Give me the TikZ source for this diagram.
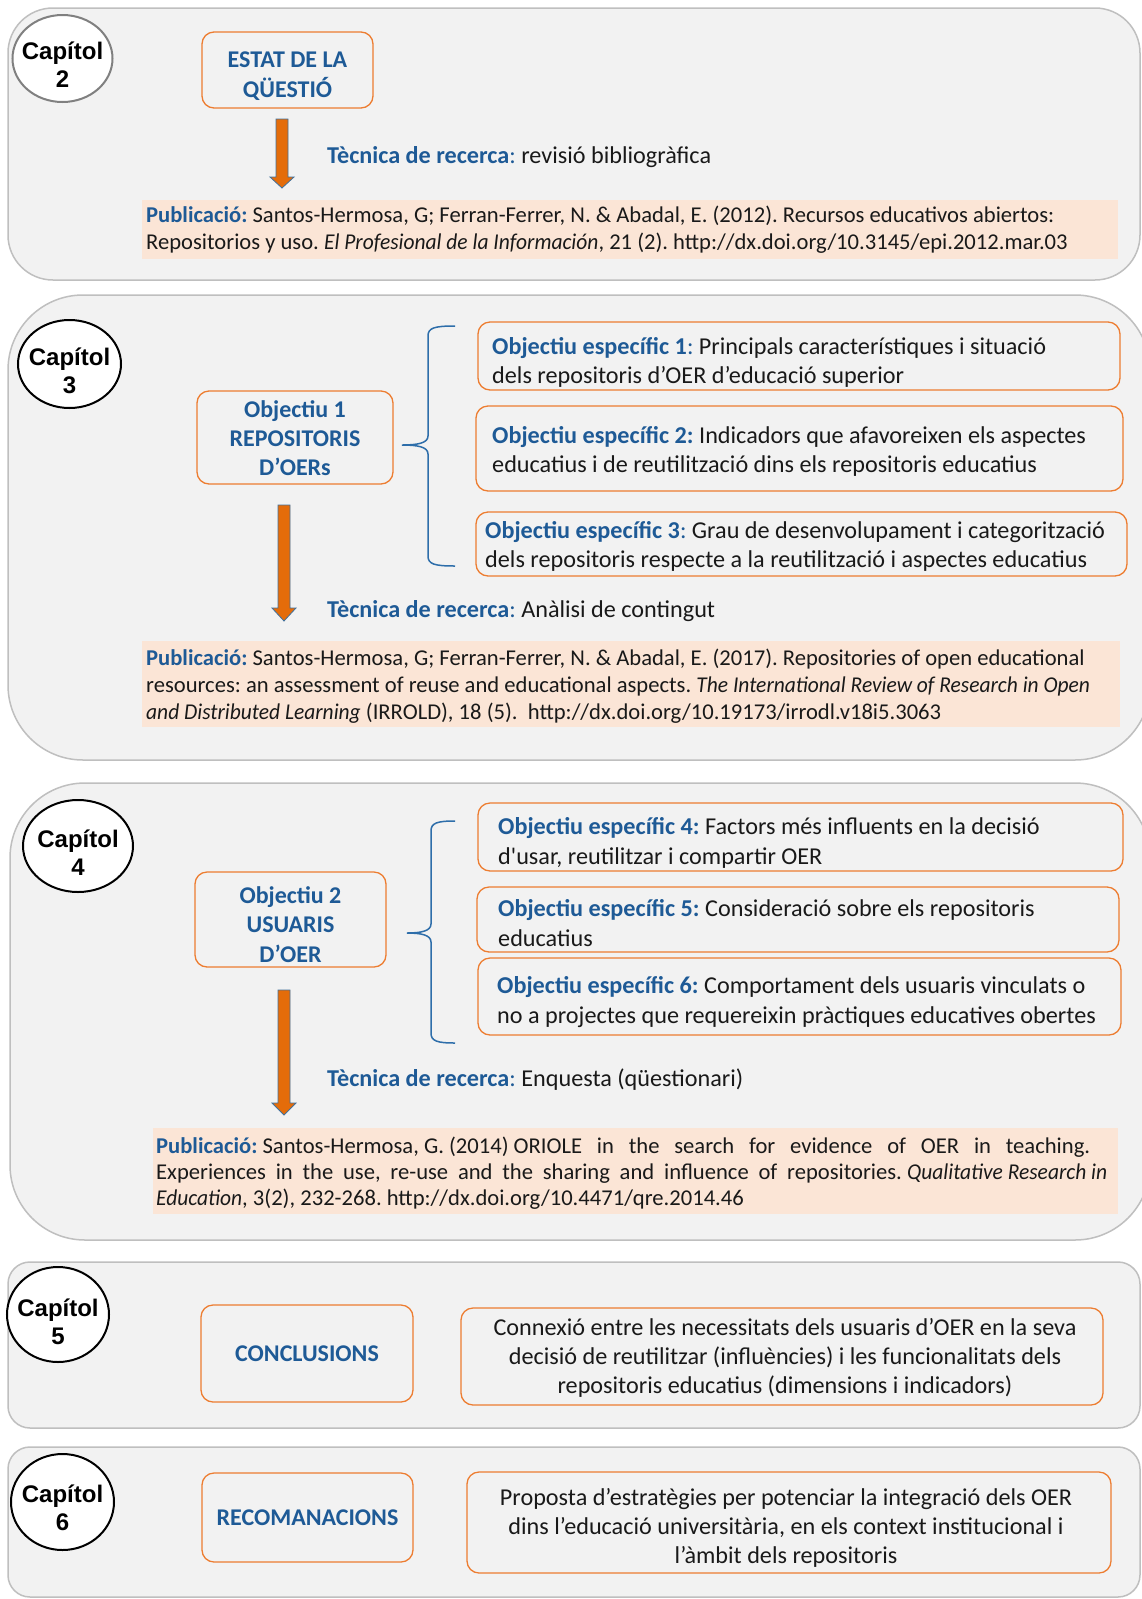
\documentclass[tikz,border=0pt]{standalone}
\usepackage{fontspec}
\setmainfont{Carlito}[Ligatures=TeXOff, ItalicFeatures={FakeStretch=0.95}]
\newfontfamily\capfont{Liberation Sans}
\usetikzlibrary{shapes.geometric}
\definecolor{tblue}{RGB}{30,90,150}
\definecolor{bord}{RGB}{237,125,49}
\definecolor{arrfill}{RGB}{228,108,10}
\definecolor{arrline}{RGB}{65,113,156}
\definecolor{peach}{RGB}{251,229,214}
\definecolor{panelfill}{RGB}{242,242,242}
\definecolor{panelline}{RGB}{191,191,191}
\definecolor{bracec}{RGB}{46,110,170}
\definecolor{txt}{RGB}{25,25,25}
\newcommand{\kw}[1]{{\color{tblue}\bfseries #1}}
\newcommand{\kc}{{\color{tblue}:}}
\newcommand{\blockarr}[4]{\filldraw[arr] (#1-6,#2) -- (#1+6,#2) -- (#1+6,#3) -- (#1+12,#3) -- (#1,#4) -- (#1-12,#3) -- (#1-6,#3) -- cycle;}
\newcommand{\mybrace}[6]{\draw[brc] (#4,#5) .. controls (#3+6,#5) and (#3,#5+2) .. (#3,#5+10) -- (#3,#2-9) .. controls (#3,#2-2) and (#3-10,#2) .. (#1,#2) .. controls (#3-10,#2) and (#3,#2+2) .. (#3,#2+9) -- (#3,#6-10) .. controls (#3,#6-2) and (#3+6,#6) .. (#4,#6);}
\frenchspacing
\begin{document}
\begin{tikzpicture}[x=1pt,y=-1pt,
  panel/.style={draw=panelline, fill=panelfill, line width=1.5pt},
  obox/.style={draw=bord, line width=1.3pt, rounded corners=12pt, inner sep=0, fill=panelfill},
  chap/.style={ellipse, draw=black, line width=2pt, fill=white, inner sep=0},
  captx/.style={anchor=base, inner sep=0, font=\capfont\bfseries\fontsize{24}{29}\selectfont},
  bt/.style={anchor=base west, inner sep=0, text=txt, font=\frenchspacing\fontsize{24.2}{29}\selectfont},
  btc/.style={anchor=base, inner sep=0, text=txt, font=\frenchspacing\fontsize{24.2}{29}\selectfont},
  bb/.style={anchor=base, inner sep=0, text=tblue, font=\bfseries\fontsize{24}{29}\selectfont},
  pt/.style={anchor=base west, inner sep=0, text=txt, font=\frenchspacing\fontsize{22.6}{27}\selectfont},
  arr/.style={fill=arrfill, draw=arrline, line width=0.8pt},
  brc/.style={draw=bracec, line width=1.5pt}
]
\useasboundingbox (0,0) rectangle (1141,1599);
\fill[white] (0,0) rectangle (1141,1599);

% ---------- panels
\draw[panel, rounded corners=45pt] (8,8) rectangle (1140,280);
\draw[panel, rounded corners=75pt] (8,295) rectangle (1150,760);
\draw[panel, rounded corners=75pt] (10,783) rectangle (1150,1240);
\draw[panel, rounded corners=22pt] (8,1262) rectangle (1140,1428);
\draw[panel, rounded corners=22pt] (8,1447) rectangle (1140,1597);

% ---------- chapter circles
\node[chap, draw=gray, minimum width=100pt, minimum height=87pt] (c2) at (62.5,58.5) {};
\node[captx] (c2a) at (62.5,59.5) {Capítol};
\node[captx] (c2b) at (62.5,87.5) {2};
\node[chap, minimum width=103pt, minimum height=88pt] (c3) at (69.5,364) {};
\node[captx] (c3a) at (69.5,365) {Capítol};
\node[captx] (c3b) at (69.5,393) {3};
\node[chap, minimum width=110pt, minimum height=92pt] (c4) at (78,846) {};
\node[captx] (c4a) at (78,847) {Capítol};
\node[captx] (c4b) at (78,875) {4};
\node[chap, minimum width=102pt, minimum height=95pt] (c5) at (58,1314.5) {};
\node[captx] (c5a) at (58,1316) {Capítol};
\node[captx] (c5b) at (58,1344) {5};
\node[chap, minimum width=103pt, minimum height=96pt] (c6) at (62.5,1502) {};
\node[captx] (c6a) at (62.5,1502.5) {Capítol};
\node[captx] (c6b) at (62.5,1530.5) {6};

% ---------- panel 1
\node[obox, minimum width=171pt, minimum height=76pt] (estat) at (287.5,70) {};
\node[bb] (estat1) at (287.5,67) {ESTAT DE LA};
\node[bb] (estat2) at (287.5,97) {QÜESTIÓ};
\blockarr{282}{119}{177}{188}
\node[bt] (tec1) at (327,163) {\kw{Tècnica de recerca}\kc{} revisió bibliogràfica};
\fill[peach] (142,200) rectangle (1118,259);
\node[pt] (pub1a) at (146,222.5) {\kw{Publicació:} Santos-Hermosa, G; Ferran-Ferrer, N. \& Abadal, E. (2012). Recursos educativos abiertos:};
\node[pt] (pub1b) at (146,249) {Repositorios y uso. \textit{El Profesional de la Información}, 21 (2). http://dx.doi.org/10.3145/epi.2012.mar.03};

% ---------- panel 2
\node[obox, minimum width=196pt, minimum height=93pt] (obj1) at (295,437.5) {};
\node[bb] (obj1a) at (295,417) {Objectiu 1};
\node[bb] (obj1b) at (295,446) {REPOSITORIS};
\node[bb] (obj1c) at (295,475) {D’OERs};
\mybrace{402}{445}{428}{455}{326}{566}
\node[obox, minimum width=642pt, minimum height=68pt] (oe1) at (799,356) {};
\node[bt] (oe1a) at (492,354) {\kw{Objectiu específic 1}\kc{} Principals característiques i situació};
\node[bt] (oe1b) at (492,383) {dels repositoris d’OER d’educació superior};
\node[obox, minimum width=647pt, minimum height=85pt] (oe2) at (799.5,448.5) {};
\node[bt] (oe2a) at (492,443) {\kw{Objectiu específic 2:} Indicadors que afavoreixen els aspectes};
\node[bt] (oe2b) at (492,472) {educatius i de reutilització dins els repositoris educatius};
\node[obox, minimum width=651pt, minimum height=64pt] (oe3) at (801.5,544) {};
\node[bt] (oe3a) at (485,538) {\kw{Objectiu específic 3}\kc{} Grau de desenvolupament i categorització};
\node[bt] (oe3b) at (485,567) {dels repositoris respecte a la reutilització i aspectes educatius};
\blockarr{284}{505}{608}{621}
\node[bt] (tec2) at (327,617) {\kw{Tècnica de recerca}\kc{} Anàlisi de contingut};
\fill[peach] (142,641) rectangle (1120,727);
\node[pt] (pub2a) at (146,665.5) {\kw{Publicació:} Santos-Hermosa, G; Ferran-Ferrer, N. \& Abadal, E. (2017). Repositories of open educational};
\node[pt] (pub2b) at (146,692.5) {resources: an assessment of reuse and educational aspects. \textit{The International Review of Research in Open}};
\node[pt] (pub2c) at (146,719) {\textit{and Distributed Learning} (IRROLD), 18 (5).\ \ http://dx.doi.org/10.19173/irrodl.v18i5.3063};

% ---------- panel 3
\node[obox, minimum width=191pt, minimum height=95pt] (obj2) at (290.5,919.5) {};
\node[bb] (obj2a) at (290.5,903) {Objectiu 2};
\node[bb] (obj2b) at (290.5,932) {USUARIS};
\node[bb] (obj2c) at (290.5,962) {D’OER};
\mybrace{407}{933}{431}{455}{821}{1043}
\node[obox, minimum width=645pt, minimum height=68pt] (oe4) at (800.5,837) {};
\node[bt] (oe4a) at (498,834) {\kw{Objectiu específic 4:} Factors més influents en la decisió};
\node[bt] (oe4b) at (498,864) {d'usar, reutilitzar i compartir OER};
\node[obox, minimum width=642pt, minimum height=65pt] (oe5) at (798,919.5) {};
\node[bt] (oe5a) at (498,916) {\kw{Objectiu específic 5:} Consideració sobre els repositoris};
\node[bt] (oe5b) at (498,946) {educatius};
\node[obox, minimum width=643pt, minimum height=77pt] (oe6) at (799.5,996.5) {};
\node[bt] (oe6a) at (497,993) {\kw{Objectiu específic 6:} Comportament dels usuaris vinculats o};
\node[bt] (oe6b) at (497,1023) {no a projectes que requereixin pràctiques educatives obertes};
\blockarr{284}{990}{1103}{1115}
\node[bt] (tec3) at (327,1086) {\kw{Tècnica de recerca}\kc{} Enquesta (qüestionari)};
\fill[peach] (153,1128) rectangle (1118,1214);
\node[pt] (pub3a) at (156,1153) {\makebox[934pt][s]{\mbox{\kw{Publicació:} Santos-Hermosa, G. (2014) ORIOLE} in the search for evidence of OER in teaching.}};
\node[pt] (pub3b) at (156,1179) {\makebox[951pt][s]{Experiences in the use, re-use and the sharing and influence of \mbox{repositories. \textit{Qualitative Research in}}}};
\node[pt] (pub3c) at (156,1205) {\textit{Education}, 3(2), 232-268. http://dx.doi.org/10.4471/qre.2014.46};

% ---------- panel 4
\node[obox, minimum width=212pt, minimum height=97pt] (concl) at (307,1353.5) {};
\node[bb] (concla) at (307,1361) {CONCLUSIONS};
\node[obox, minimum width=642pt, minimum height=97pt] (conn) at (782,1356.5) {};
\node[btc] (conna) at (785,1335) {Connexió entre les necessitats dels usuaris d’OER en la seva};
\node[btc] (connb) at (785,1364) {decisió de reutilitzar (influències) i les funcionalitats dels};
\node[btc] (connc) at (785,1393) {repositoris educatius (dimensions i indicadors)};

% ---------- panel 5
\node[obox, minimum width=211pt, minimum height=89pt] (recom) at (307.5,1517.5) {};
\node[bb] (recoma) at (307.5,1525) {RECOMANACIONS};
\node[obox, minimum width=644pt, minimum height=101pt] (prop) at (789,1522.5) {};
\node[btc] (propa) at (786,1505) {Proposta d’estratègies per potenciar la integració dels OER};
\node[btc] (propb) at (786,1534) {dins l’educació universitària, en els context institucional i};
\node[btc] (propc) at (786,1563) {l’àmbit dels repositoris};
\end{tikzpicture}
\end{document}
